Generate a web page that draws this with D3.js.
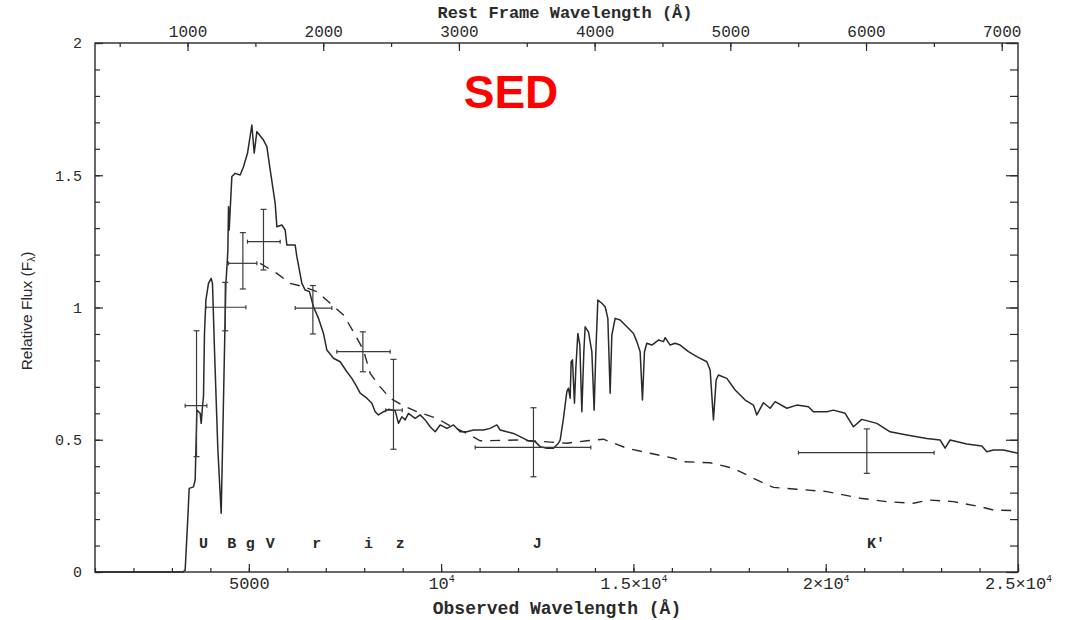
<!DOCTYPE html>
<html><head><meta charset="utf-8">
<script src="https://cdn.jsdelivr.net/npm/d3@7"></script>
<style>body{margin:0;background:#fff}</style>
</head><body><svg id="c" width="1069" height="620"></svg>
<script>
// ---- data (wavelengths in Angstrom, flux relative F_lambda) ----
const specLam = [1000,3293,3345,3415,3449,3561,3605,3623,3649,3735,3761,3795,3821,3847,3883,3951,4021,4055,4107,4195,4281,4315,4367,4403,4437,4455,4471,4489,4515,4559,4645,4775,4861,4965,5079,5139,5209,5277,5381,5469,5555,5685,5729,5859,5945,5989,6205,6249,6379,6465,6577,6681,6811,6941,7029,7201,7375,7549,7679,7809,7895,8069,8199,8285,8371,8501,8631,8805,8891,8979,9065,9151,9325,9455,9585,9715,9845,9975,10149,10321,10495,10669,10841,11101,11275,11449,11535,11709,11881,12055,12271,12445,12575,12749,12921,13051,13095,13181,13269,13311,13355,13381,13415,13467,13503,13555,13607,13659,13711,13745,13831,13919,13979,14023,14075,14179,14265,14335,14395,14439,14525,14655,14785,14915,15001,15089,15175,15235,15287,15349,15479,15651,15781,15825,15955,16085,16215,16431,16649,16909,16995,17081,17151,17211,17429,17645,17905,18121,18209,18381,18555,18685,18989,19249,19551,19681,20029,20201,20505,20721,20939,21329,21675,22109,22629,22975,23105,23235,23669,24059,24189,24361,24621,25000];
const specFlux = [0,0,0.008,0.209,0.316,0.322,0.348,0.461,0.612,0.600,0.562,0.625,0.663,0.902,1.028,1.091,1.110,1.091,0.839,0.461,0.222,0.461,0.839,1.091,1.167,1.217,1.381,1.293,1.369,1.495,1.507,1.501,1.532,1.583,1.690,1.584,1.665,1.652,1.633,1.608,1.520,1.394,1.305,1.312,1.293,1.236,1.236,1.192,1.091,1.066,1.060,1.003,0.959,0.902,0.839,0.808,0.795,0.757,0.732,0.700,0.676,0.657,0.638,0.606,0.594,0.606,0.615,0.610,0.562,0.587,0.575,0.600,0.581,0.594,0.575,0.549,0.530,0.556,0.543,0.556,0.530,0.530,0.537,0.537,0.543,0.556,0.537,0.530,0.524,0.512,0.496,0.493,0.474,0.468,0.468,0.487,0.499,0.581,0.682,0.695,0.657,0.795,0.802,0.638,0.770,0.902,0.858,0.606,0.833,0.927,0.908,0.833,0.612,0.833,1.028,1.016,1.003,0.959,0.676,0.896,0.959,0.953,0.934,0.915,0.902,0.871,0.833,0.650,0.833,0.865,0.858,0.877,0.871,0.886,0.858,0.865,0.858,0.833,0.814,0.795,0.764,0.575,0.726,0.745,0.732,0.688,0.650,0.631,0.594,0.640,0.619,0.644,0.619,0.631,0.625,0.606,0.606,0.612,0.600,0.549,0.577,0.562,0.530,0.518,0.505,0.499,0.468,0.499,0.484,0.476,0.455,0.461,0.461,0.449];

const modelLam = [5295,5729,6075,6421,6769,7115,7461,7721,7981,8155,8415,8675,9021,9369,9889,10191,10669,11015,11969,12661,13269,13789,14221,14829,15435,16041,16301,16995,17601,18209,18641,19249,20029,20895,21589,22281,22671,23321,24015,24361,24969];
const modelFlux = [1.167,1.129,1.091,1.079,1.060,1.016,0.972,0.908,0.839,0.751,0.700,0.657,0.628,0.606,0.581,0.556,0.524,0.496,0.499,0.493,0.487,0.496,0.502,0.468,0.449,0.430,0.417,0.413,0.392,0.348,0.320,0.313,0.304,0.279,0.266,0.260,0.272,0.266,0.247,0.234,0.232];

const photBands  = ["U","B","g","V","r","i","z","J","K'"];
const photLam    = [3640,4385,4845,5381,6665,7965,8761,12401,21069];
const photLamLo  = [3345,3883,4471,4965,6205,7289,8560,10885,19291];
const photLamHi  = [3909,4923,5209,5815,7159,8675,8990,13893,22819];
const photFlux   = [0.629,1.001,1.167,1.249,0.998,0.833,0.612,0.471,0.451];
const photFluxLo = [0.436,0.912,1.070,1.142,0.900,0.757,0.464,0.360,0.373];
const photFluxHi = [0.912,1.095,1.283,1.371,1.083,0.908,0.804,0.621,0.541];
const bandLabelLam = [3821,4559,5035,5555,6769,8111,8935,12497,21311];

const obsMajor = [5000,10000,15000,20000,25000];
const obsMajorLabels = ["5000","10^4","1.5×10^4","2×10^4","2.5×10^4"];
const obsMinor = d3.range(1000,25001,1000);
const restMajor = [1000,2000,3000,4000,5000,6000,7000];
const restMinor = d3.range(500,7001,500);
const restDomain = [318,7120];
const fluxMajor = [0,0.5,1,1.5,2];
const fluxMajorLabels = ["0","0.5","1","1.5","2"];
const fluxMinor = d3.range(0,2.001,0.1);

// ---- drawing ----
const svg = d3.select("#c");
const L=95, R=1018, T=43, B=572;
const x = d3.scaleLinear().domain([1000,25000]).range([L,R]);
const xr = d3.scaleLinear().domain(restDomain).range([L,R]);
const y = d3.scaleLinear().domain([0,2]).range([B,T]);
const ink = "#2a2a2a";
const mono = "'Liberation Mono', 'DejaVu Sans Mono', monospace";

function styleAxis(g){ g.select(".domain").remove(); g.selectAll("line").attr("stroke",ink).attr("stroke-width",1.2); g.selectAll("text").attr("fill",ink).attr("font-family",mono); }

// bottom
svg.append("g").attr("transform",`translate(0,${B})`).call(d3.axisBottom(x).tickValues(obsMinor).tickSize(-4).tickFormat("")).call(styleAxis);
const gb = svg.append("g").attr("transform",`translate(0,${B})`)
  .call(d3.axisBottom(x).tickValues(obsMajor).tickSize(-8).tickPadding(5).tickFormat((d,i)=>obsMajorLabels[i]));
styleAxis(gb);
gb.selectAll("text").attr("font-size",17).each(function(){
  const t=d3.select(this); const s=t.text(); const parts=s.split("^"); t.text(null);
  t.append("tspan").text(parts[0]);
  if(parts[1]) t.append("tspan").attr("font-size",10).attr("dy","-0.7em").text(parts[1]);
});
// top
svg.append("g").attr("transform",`translate(0,${T})`).call(d3.axisTop(xr).tickValues(restMinor).tickSize(-4).tickFormat("")).call(styleAxis);
const gt = svg.append("g").attr("transform",`translate(0,${T})`)
  .call(d3.axisTop(xr).tickValues(restMajor).tickSize(-8).tickPadding(6).tickFormat(d3.format("d")));
styleAxis(gt); gt.selectAll("text").attr("font-size",16);
// left
svg.append("g").attr("transform",`translate(${L},0)`).call(d3.axisLeft(y).tickValues(fluxMinor).tickSize(-5).tickFormat("")).call(styleAxis);
const gl = svg.append("g").attr("transform",`translate(${L},0)`)
  .call(d3.axisLeft(y).tickValues(fluxMajor).tickSize(-8).tickPadding(13).tickFormat((d,i)=>fluxMajorLabels[i]));
styleAxis(gl); gl.selectAll("text").attr("font-size",15);
// right
svg.append("g").attr("transform",`translate(${R},0)`).call(d3.axisRight(y).tickValues(fluxMinor).tickSize(-8).tickFormat("")).call(styleAxis);
svg.append("g").attr("transform",`translate(${R},0)`).call(d3.axisRight(y).tickValues(fluxMajor).tickSize(-12).tickFormat("")).call(styleAxis);

// frame
svg.append("rect").attr("x",L).attr("y",T).attr("width",R-L).attr("height",B-T)
  .attr("fill","none").attr("stroke",ink).attr("stroke-width",1.4);

// spectrum
const line = d3.line().x(d=>x(d[0])).y(d=>y(d[1]));
svg.append("path").datum(specLam.map((l,i)=>[l,specFlux[i]])).attr("d",line)
  .attr("fill","none").attr("stroke",ink).attr("stroke-width",1.5).attr("stroke-linejoin","round");
svg.append("path").datum(modelLam.map((l,i)=>[l,modelFlux[i]])).attr("d",line)
  .attr("fill","none").attr("stroke",ink).attr("stroke-width",1.4).attr("stroke-dasharray","10,8");

// photometry error crosses
const eb = svg.append("g").attr("stroke","#3a3a3a").attr("stroke-width",1.2);
photBands.forEach((b,i)=>{
  const cx=x(photLam[i]), cy=y(photFlux[i]);
  eb.append("line").attr("x1",cx).attr("x2",cx).attr("y1",y(photFluxLo[i])).attr("y2",y(photFluxHi[i]));
  eb.append("line").attr("x1",x(photLamLo[i])).attr("x2",x(photLamHi[i])).attr("y1",cy).attr("y2",cy);
  [photFluxLo[i],photFluxHi[i]].forEach(v=>eb.append("line").attr("x1",cx-3).attr("x2",cx+3).attr("y1",y(v)).attr("y2",y(v)));
  [photLamLo[i],photLamHi[i]].forEach(v=>eb.append("line").attr("x1",x(v)).attr("x2",x(v)).attr("y1",cy-2).attr("y2",cy+2));
});

// band labels
svg.append("g").selectAll("text").data(photBands).join("text")
  .attr("x",(d,i)=>x(bandLabelLam[i])).attr("y",548).attr("text-anchor","middle")
  .attr("font-family",mono).attr("font-size",15).attr("font-weight","bold").attr("fill",ink).text(d=>d);

// titles
svg.append("text").attr("x",565).attr("y",18).attr("text-anchor","middle").attr("font-family",mono)
  .attr("font-size",17).attr("font-weight","bold").attr("fill",ink).text("Rest Frame Wavelength (Å)");
svg.append("text").attr("x",557).attr("y",614).attr("text-anchor","middle").attr("font-family",mono)
  .attr("font-size",18).attr("font-weight","bold").attr("fill",ink).text("Observed Wavelength (Å)");
const yl = svg.append("text").attr("transform","translate(32,311) rotate(-90)").attr("text-anchor","middle")
  .attr("font-family","'Liberation Sans', Arial, sans-serif").attr("font-size",15.5).attr("fill",ink);
yl.append("tspan").text("Relative Flux (F");
yl.append("tspan").attr("font-size",10).attr("dy","3").text("λ");
yl.append("tspan").attr("dy","-3").text(")");
svg.append("text").attr("x",511).attr("y",108).attr("text-anchor","middle")
  .attr("font-family","'Liberation Sans', Arial, sans-serif").attr("font-size",46).attr("font-weight","bold")
  .attr("fill","#f00").text("SED");
</script></body></html>
